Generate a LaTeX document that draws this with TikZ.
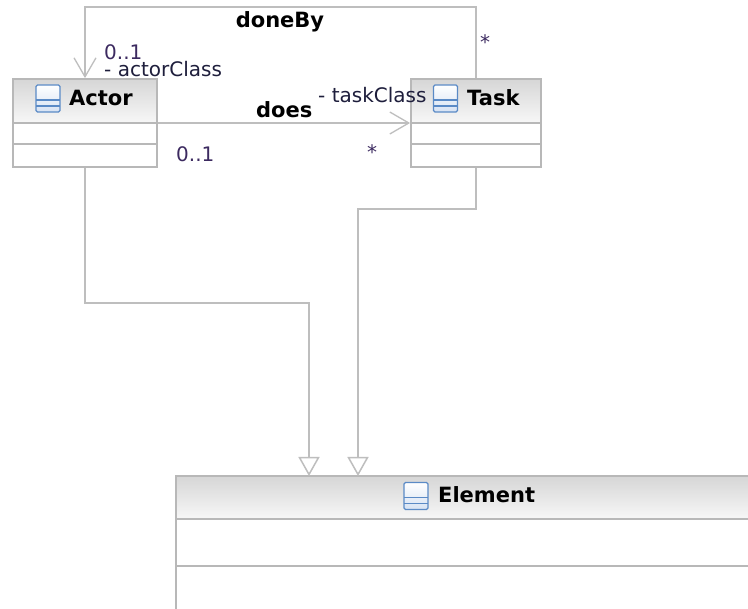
\documentclass[tikz,border=0pt]{standalone}
\usepackage{fontspec}
\setmainfont{DejaVu Sans}
\usetikzlibrary{arrows.meta}
\definecolor{linegray}{HTML}{BEBEBE}
\definecolor{boxgray}{HTML}{B8B8B8}
\definecolor{headtop}{HTML}{D6D6D6}
\definecolor{headbot}{HTML}{F7F7F7}
\definecolor{iconblue}{HTML}{5A8AC6}
\definecolor{iconfill}{HTML}{D6E2F3}
\definecolor{labelcol}{HTML}{1E1E3C}
\definecolor{multcol}{HTML}{3C2A60}
\tikzset{
  cbox/.style={draw=boxgray, line width=1.8pt, inner sep=0pt, rectangle},
  cline/.style={draw=boxgray, line width=1.8pt},
  headshade/.style={top color=headtop, bottom color=headbot},
  assoc/.style={draw=linegray, line width=1.8pt},
  navtip/.style={-{Straight Barb[length=19pt,width=22pt,line width=1.3pt]}},
  gentip/.style={-{Triangle[open,length=19pt,width=21pt,line width=1.5pt,fill=white]}},
  lbl/.style={font=\fontsize{20}{22}\selectfont, text=labelcol, inner sep=0pt},
  mult/.style={lbl, text=multcol},
  cname/.style={font=\fontsize{21}{23}\selectfont\bfseries, inner sep=0pt, text=black},
  clsicon/.pic={
    \draw[iconblue, line width=1.3pt, top color=white, bottom color=iconfill, rounded corners=1.5pt]
      (-12,-13.5) rectangle (12,13.5);
    \draw[iconblue, line width=1.1pt] (-12,1.5) -- (12,1.5);
    \draw[iconblue, line width=1.1pt] (-12,7.5) -- (12,7.5);
  }
}
\begin{document}
\begin{tikzpicture}[x=1pt, y=-1pt]
\path[use as bounding box, clip] (0,0) rectangle (748,609);
\fill[white] (0,0) rectangle (748,609);

% Actor
\fill[white] (13,79) rectangle (157,167);
\shade[headshade] (13,79) rectangle (157,123);
\draw[cline] (13,123) -- (157,123);
\draw[cline] (13,144) -- (157,144);
\node[cbox, minimum width=144pt, minimum height=88pt] (actor) at (85,123) {};
\pic at (48,98.5) {clsicon};
\node[cname, anchor=base west] (actorname) at (69,106) {Actor};

% Task
\fill[white] (411,79) rectangle (541,167);
\shade[headshade] (411,79) rectangle (541,123);
\draw[cline] (411,123) -- (541,123);
\draw[cline] (411,144) -- (541,144);
\node[cbox, minimum width=130pt, minimum height=88pt] (task) at (476,123) {};
\pic at (445.5,98.5) {clsicon};
\node[cname, anchor=base west] (taskname) at (467,106) {Task};

% Element
\fill[white] (176,476) rectangle (760,644);
\shade[headshade] (176,476) rectangle (760,519);
\draw[cline] (176,519) -- (760,519);
\draw[cline] (176,566) -- (760,566);
\node[cbox, minimum width=584pt, minimum height=168pt] (element) at (468,560) {};
\pic at (416,496) {clsicon};
\node[cname, anchor=base west] (elementname) at (438,503) {Element};

\coordinate (g1) at (309,476);
\coordinate (g2) at (358,476);

% associations
\draw[assoc, navtip] (task.north) -- (476,7) -| (actor.north);
\draw[assoc, navtip] (actor.east) -- (task.west);

% generalizations
\draw[assoc, gentip] (actor.south) |- (309,303) -- (g1);
\draw[assoc, gentip] (task.south) |- (358,209) -- (g2);

% labels
\node[cname, anchor=base] (donebylbl) at (280,28) {doneBy};
\node[mult, anchor=base] (startop) at (485,50) {*};
\node[mult, anchor=base west] (multa) at (104,60) {0..1};
\node[lbl, anchor=base west] (actorrole) at (104,77) {- actorClass};
\node[cname, anchor=base west] (doeslbl) at (256,118) {does};
\node[lbl, anchor=base west] (taskrole) at (318,103) {- taskClass};
\node[mult, anchor=base west] (multb) at (176,162) {0..1};
\node[mult, anchor=base] (starlow) at (372,160) {*};
\end{tikzpicture}
\end{document}
